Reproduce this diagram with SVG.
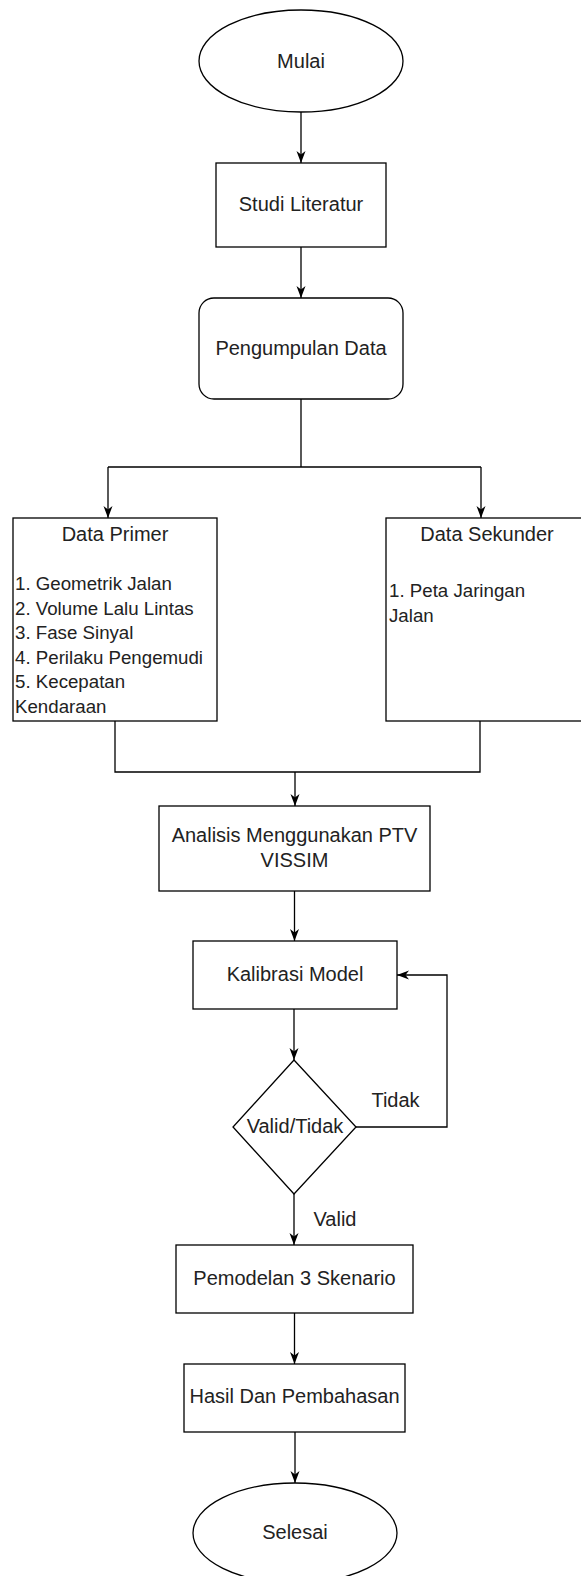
<svg xmlns="http://www.w3.org/2000/svg" width="581" height="1576" viewBox="0 0 581 1576">
<style>
.s{fill:#fff;stroke:#000;stroke-width:1.3}
.c{fill:none;stroke:#000;stroke-width:1.3;marker-end:url(#a)}
.l{fill:none;stroke:#000;stroke-width:1.3}
.t{font-family:"Liberation Sans",Arial,sans-serif;font-size:20px;fill:#222;text-anchor:middle}
.k{font-family:"Liberation Sans",Arial,sans-serif;font-size:18.7px;fill:#222}
</style>
<defs>
<marker id="a" viewBox="0 0 12 12" refX="12" refY="6" markerWidth="12" markerHeight="12" markerUnits="userSpaceOnUse" orient="auto">
<path d="M0,1.5 L12,6 L0,10.5 L3.5,6 z" fill="#000"/>
</marker>
</defs>
<rect width="581" height="1576" fill="#fff"/>
<g id="connectors">
<path class="c" d="M301,112 V163"/>
<path class="c" d="M301,247 V298"/>
<path class="l" d="M301,399 V467 M108,467 H481"/>
<path class="c" d="M108,467 V518"/>
<path class="c" d="M481,467 V518"/>
<path class="l" d="M115,721 V772 H480 V721"/>
<path class="c" d="M295,772 V806"/>
<path class="c" d="M294.5,891 V941"/>
<path class="c" d="M294,1009 V1060"/>
<path class="c" d="M356,1127 H447 V975 H397"/>
<path class="c" d="M294,1194 V1245"/>
<path class="c" d="M294.5,1313 V1364"/>
<path class="c" d="M295,1432 V1483"/>
<text class="t" x="395.5" y="1107">Tidak</text>
<text class="t" x="335" y="1226">Valid</text>
</g>
<g id="mulai">
<ellipse class="s" cx="301" cy="61" rx="102" ry="51"/>
<text class="t" x="301" y="68">Mulai</text>
</g>
<g id="studi">
<rect class="s" x="216" y="163" width="170" height="84"/>
<text class="t" x="301" y="211">Studi Literatur</text>
</g>
<g id="pengumpulan">
<rect class="s" x="199" y="298" width="204" height="101" rx="15" ry="15"/>
<text class="t" x="301" y="355">Pengumpulan Data</text>
</g>
<g id="primer">
<rect class="s" x="13" y="518" width="204" height="203"/>
<text class="t" x="115" y="541">Data Primer</text>
<text class="k" x="15" y="590">1. Geometrik Jalan</text>
<text class="k" x="15" y="614.5">2. Volume Lalu Lintas</text>
<text class="k" x="15" y="639">3. Fase Sinyal</text>
<text class="k" x="15" y="663.5">4. Perilaku Pengemudi</text>
<text class="k" x="15" y="688">5. Kecepatan</text>
<text class="k" x="15" y="712.5">Kendaraan</text>
</g>
<g id="sekunder">
<rect class="s" x="386" y="518" width="202" height="203"/>
<text class="t" x="487" y="541">Data Sekunder</text>
<text class="k" x="389" y="597">1. Peta Jaringan</text>
<text class="k" x="389" y="622">Jalan</text>
</g>
<g id="analisis">
<rect class="s" x="159" y="806" width="271" height="85"/>
<text class="t" x="294.5" y="842">Analisis Menggunakan PTV</text>
<text class="t" x="294.5" y="867">VISSIM</text>
</g>
<g id="kalibrasi">
<rect class="s" x="193" y="941" width="204" height="68"/>
<text class="t" x="295" y="981">Kalibrasi Model</text>
</g>
<g id="valid">
<path class="s" d="M294,1060 L356,1127 L294,1194 L233,1127 Z"/>
<text class="t" x="295" y="1133">Valid/Tidak</text>
</g>
<g id="pemodelan">
<rect class="s" x="176" y="1245" width="237" height="68"/>
<text class="t" x="294.5" y="1285">Pemodelan 3 Skenario</text>
</g>
<g id="hasil">
<rect class="s" x="184" y="1364" width="221" height="68"/>
<text class="t" x="294.5" y="1403">Hasil Dan Pembahasan</text>
</g>
<g id="selesai">
<ellipse class="s" cx="295" cy="1533" rx="102" ry="50"/>
<text class="t" x="295" y="1539">Selesai</text>
</g>
</svg>
